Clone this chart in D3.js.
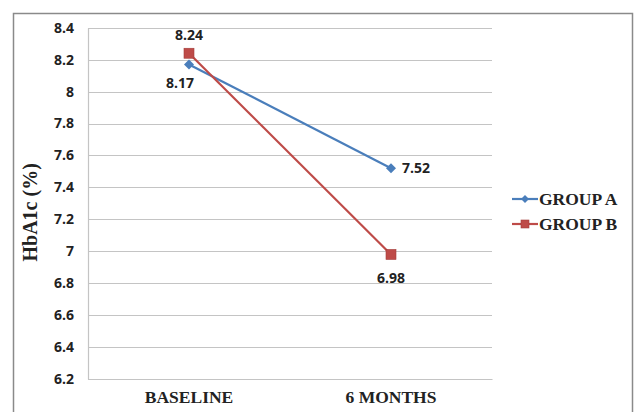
<!DOCTYPE html>
<html>
<head>
<meta charset="utf-8">
<script src="https://cdn.jsdelivr.net/npm/d3@7"></script>
<style>
  html, body { margin: 0; padding: 0; background: #fff; }
  svg { display: block; }
</style>
</head>
<body>
<svg id="chart" width="634" height="412"></svg>
<script>
// Mean HbA1c at baseline and after six months, per study group
const categories = ["BASELINE", "6 MONTHS"];
const groupA = [8.17, 7.52];
const groupB = [8.24, 6.98];
const seriesNames = ["GROUP A", "GROUP B"];
const yTicks = [6.2, 6.4, 6.6, 6.8, 7, 7.2, 7.4, 7.6, 7.8, 8, 8.2, 8.4];

const colors = { "GROUP A": "#4a7ebb", "GROUP B": "#be4b48" };
const series = [
  { name: seriesNames[0], values: groupA, marker: "diamond" },
  { name: seriesNames[1], values: groupB, marker: "square" }
];

const svg = d3.select("#chart");

// outer frame
svg.append("rect")
  .attr("x", 13.5).attr("y", 13.5)
  .attr("width", 619).attr("height", 420)
  .attr("fill", "#fff").attr("stroke", "#8a8a8a").attr("stroke-width", 1.5);

const plot = { left: 88, right: 492, top: 27.7, bottom: 379 };

const x = d3.scaleBand().domain(categories).range([plot.left, plot.right]);
const y = d3.scaleLinear().domain([6.2, 8.4]).range([plot.bottom, plot.top]);

// horizontal gridlines
svg.append("g").selectAll("line").data(yTicks).join("line")
  .attr("x1", plot.left).attr("x2", plot.right)
  .attr("y1", d => Math.round(y(d)) + 0.5).attr("y2", d => Math.round(y(d)) + 0.5)
  .attr("stroke", "#c4c4c4").attr("stroke-width", 1.2);

// y axis
const yAxis = svg.append("g")
  .attr("transform", `translate(${plot.left},0)`)
  .call(d3.axisLeft(y).tickValues(yTicks).tickFormat(d3.format("")).tickSize(0).tickPadding(14));
yAxis.select(".domain").attr("stroke", "#c4c4c4").attr("stroke-width", 1.2);
yAxis.selectAll("text")
  .attr("font-family", "'Open Sans', 'Liberation Sans', sans-serif")
  .attr("font-weight", "bold").attr("font-size", 14).attr("fill", "#222");

// x axis labels
const xAxis = svg.append("g")
  .attr("transform", `translate(0,${plot.bottom})`)
  .call(d3.axisBottom(x).tickSize(0).tickPadding(12));
xAxis.select(".domain").attr("stroke", "#c4c4c4").attr("stroke-width", 1.2);
xAxis.selectAll("text")
  .attr("font-family", "'Liberation Serif', 'Times New Roman', serif")
  .attr("font-weight", "bold").attr("font-size", 17.5).attr("fill", "#222");

// y axis title
svg.append("text")
  .attr("transform", `translate(37,${(plot.top + plot.bottom) / 2 + 9}) rotate(-90)`)
  .attr("text-anchor", "middle")
  .attr("font-family", "'Liberation Serif', 'Times New Roman', serif")
  .attr("font-weight", "bold").attr("font-size", 20).attr("fill", "#222")
  .text("HbA1c (%)");

const cx = c => x(c) + x.bandwidth() / 2;
const line = d3.line().x((d, i) => cx(categories[i])).y(d => y(d));

function drawMarker(g, type, px, py, color, size) {
  if (type === "diamond") {
    g.append("path")
      .attr("d", `M${px},${py - size}L${px + size},${py}L${px},${py + size}L${px - size},${py}Z`)
      .attr("fill", color);
  } else {
    g.append("rect")
      .attr("x", px - size).attr("y", py - size)
      .attr("width", size * 2).attr("height", size * 2)
      .attr("fill", color).attr("stroke", "#a33c3a").attr("stroke-width", 0.6);
  }
}

// lines first, then markers so they sit on top
series.forEach(s => {
  svg.append("path").datum(s.values)
    .attr("d", line).attr("fill", "none")
    .attr("stroke", colors[s.name]).attr("stroke-width", 2.2);
});
series.slice().reverse().forEach(s => {
  const g = svg.append("g");
  s.values.forEach((v, i) => {
    drawMarker(g, s.marker, cx(categories[i]), y(v), colors[s.name], 5);
  });
});

// value labels
const labelFont = "'Open Sans', 'Liberation Sans', sans-serif";
const labelPos = {
  "GROUP A": [{ dx: -9, dy: 24, anchor: "middle" }, { dx: 11, dy: 5, anchor: "start" }],
  "GROUP B": [{ dx: 0, dy: -13, anchor: "middle" }, { dx: 0, dy: 29, anchor: "middle" }]
};
series.forEach(s => {
  s.values.forEach((v, i) => {
    const p = labelPos[s.name][i];
    svg.append("text")
      .attr("x", cx(categories[i]) + p.dx)
      .attr("y", y(v) + p.dy)
      .attr("text-anchor", p.anchor)
      .attr("font-family", labelFont).attr("font-weight", "bold")
      .attr("font-size", 14).attr("fill", "#222")
      .text(d3.format(".2f")(v));
  });
});

// legend
const legend = svg.append("g").attr("transform", "translate(512,0)");
series.forEach((s, i) => {
  const ly = 199 + i * 25;
  legend.append("line")
    .attr("x1", 0).attr("x2", 26).attr("y1", ly).attr("y2", ly)
    .attr("stroke", colors[s.name]).attr("stroke-width", 2.2);
  drawMarker(legend, s.marker, 13, ly, colors[s.name], 4);
  legend.append("text")
    .attr("x", 27).attr("y", ly + 6)
    .attr("font-family", "'Liberation Serif', 'Times New Roman', serif")
    .attr("font-weight", "bold").attr("font-size", 17.5).attr("fill", "#222")
    .text(s.name);
});
</script>
</body>
</html>
